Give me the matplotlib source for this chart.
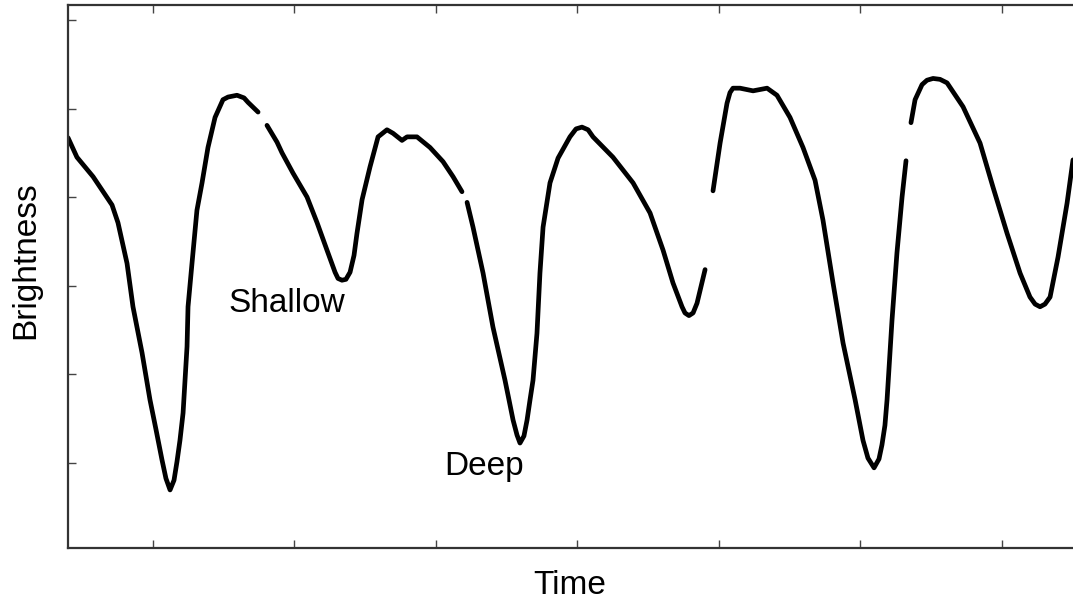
import matplotlib
matplotlib.use("Agg")
import matplotlib.pyplot as plt

plt.rcParams['font.family'] = ['Liberation Sans', 'DejaVu Sans']

# light curve, split where the observations have gaps
seg1_t = [4.03, 4.66, 5.80, 7.14, 7.56, 8.20, 8.62, 9.26, 9.82, 10.25, 10.67, 10.95,
          11.24, 11.52, 11.73, 11.94, 12.16, 12.44, 12.51, 12.79, 13.14, 13.50, 13.92,
          14.42, 14.98, 15.34, 15.97, 16.47, 16.75, 17.46]
seg1_b = [4.67, 4.45, 4.23, 3.91, 3.71, 3.25, 2.76, 2.24, 1.71, 1.37, 1.03, 0.82,
          0.69, 0.80, 1.01, 1.25, 1.56, 2.31, 2.76, 3.25, 3.85, 4.16, 4.56,
          4.90, 5.10, 5.13, 5.15, 5.12, 5.07, 4.96]

seg2_t = [18.09, 18.80, 19.15, 19.93, 20.92, 21.63, 22.33, 22.90, 23.11, 23.39, 23.67,
          23.96, 24.24, 24.45, 24.81, 25.37, 25.94, 26.57, 27.00, 27.63, 27.99, 28.69,
          29.61, 30.53, 31.24, 31.87]
seg2_b = [4.81, 4.62, 4.50, 4.27, 4.00, 3.71, 3.40, 3.15, 3.08, 3.06, 3.07,
          3.15, 3.34, 3.59, 3.97, 4.34, 4.68, 4.76, 4.72, 4.64, 4.68, 4.68,
          4.56, 4.40, 4.23, 4.06]

seg3_t = [32.23, 32.65, 33.36, 34.06, 34.91, 35.19, 35.48, 35.76, 35.97, 36.25, 36.47,
          36.68, 36.89, 37.17, 37.38, 37.60, 38.09, 38.66, 39.50, 39.93, 40.35, 40.78,
          41.13, 42.54, 43.96, 45.16, 46.08, 46.78, 47.42, 47.63, 47.91, 48.20, 48.48,
          49.05]
seg3_b = [3.94, 3.66, 3.14, 2.53, 1.93, 1.71, 1.48, 1.31, 1.22, 1.30, 1.48,
          1.71, 1.93, 2.46, 3.14, 3.66, 4.16, 4.44, 4.68, 4.77, 4.79, 4.76,
          4.68, 4.45, 4.16, 3.82, 3.40, 3.03, 2.76, 2.69, 2.66, 2.69, 2.80,
          3.18]

seg4_t = [49.61, 50.11, 50.60, 50.81, 51.02, 51.52, 52.44, 53.43, 54.13, 55.05, 55.97,
          56.82, 57.38, 58.09, 58.80, 59.65, 59.93, 60.21, 60.56, 60.99, 61.34, 61.55,
          61.76, 61.91, 62.26, 62.61, 62.97, 63.25]
seg4_b = [4.07, 4.61, 5.06, 5.18, 5.23, 5.23, 5.20, 5.23, 5.15, 4.90, 4.56,
          4.19, 3.74, 3.03, 2.35, 1.71, 1.48, 1.25, 1.05, 0.94, 1.04, 1.20,
          1.42, 1.71, 2.61, 3.37, 4.00, 4.41]

seg5_t = [63.60, 63.89, 64.38, 64.73, 65.16, 65.65, 66.15, 67.28, 68.48, 69.40, 70.39,
          71.31, 72.01, 72.37, 72.72, 73.07, 73.43, 73.99, 74.63, 75.05]
seg5_b = [4.84, 5.10, 5.27, 5.32, 5.34, 5.33, 5.29, 5.02, 4.61, 4.11, 3.59,
          3.14, 2.87, 2.79, 2.76, 2.79, 2.87, 3.32, 3.93, 4.42]

segments = [(seg1_t, seg1_b), (seg2_t, seg2_b), (seg3_t, seg3_b),
            (seg4_t, seg4_b), (seg5_t, seg5_b)]

time_ticks = [10, 20, 30, 40, 50, 60, 70]
bright_ticks = [1, 2, 3, 4, 5, 6]

fig = plt.figure(figsize=(10.73, 6.02), dpi=100)
ax = fig.add_axes([0.0634, 0.0897, 0.9366, 0.902])

for t, b in segments:
    ax.plot(t, b, color='black', lw=3.4, solid_capstyle='round',
            solid_joinstyle='round')

ax.text(19.5, 2.80, "Shallow", fontsize=24, ha='center', va='center')
ax.text(33.4, 0.95, "Deep", fontsize=24, ha='center', va='center')

ax.set_xlim(4.03, 75.05)
ax.set_ylim(0.034, 6.17)
ax.set_xticks(time_ticks)
ax.set_yticks(bright_ticks)
ax.set_xticklabels([])
ax.set_yticklabels([])
ax.tick_params(direction='in', length=6, width=1, color='#444444',
               top=True, bottom=True, left=True, right=False)

for side in ['left', 'top', 'bottom']:
    ax.spines[side].set_color('#333333')
    ax.spines[side].set_linewidth(1.6)
ax.spines['right'].set_visible(False)

fig.text(0.531, 0.028, "Time", fontsize=24, ha='center', va='center')
fig.text(0.024, 0.568, "Brightness", fontsize=24, rotation=90,
         ha='center', va='center')

fig.savefig("out.png", dpi=100)
